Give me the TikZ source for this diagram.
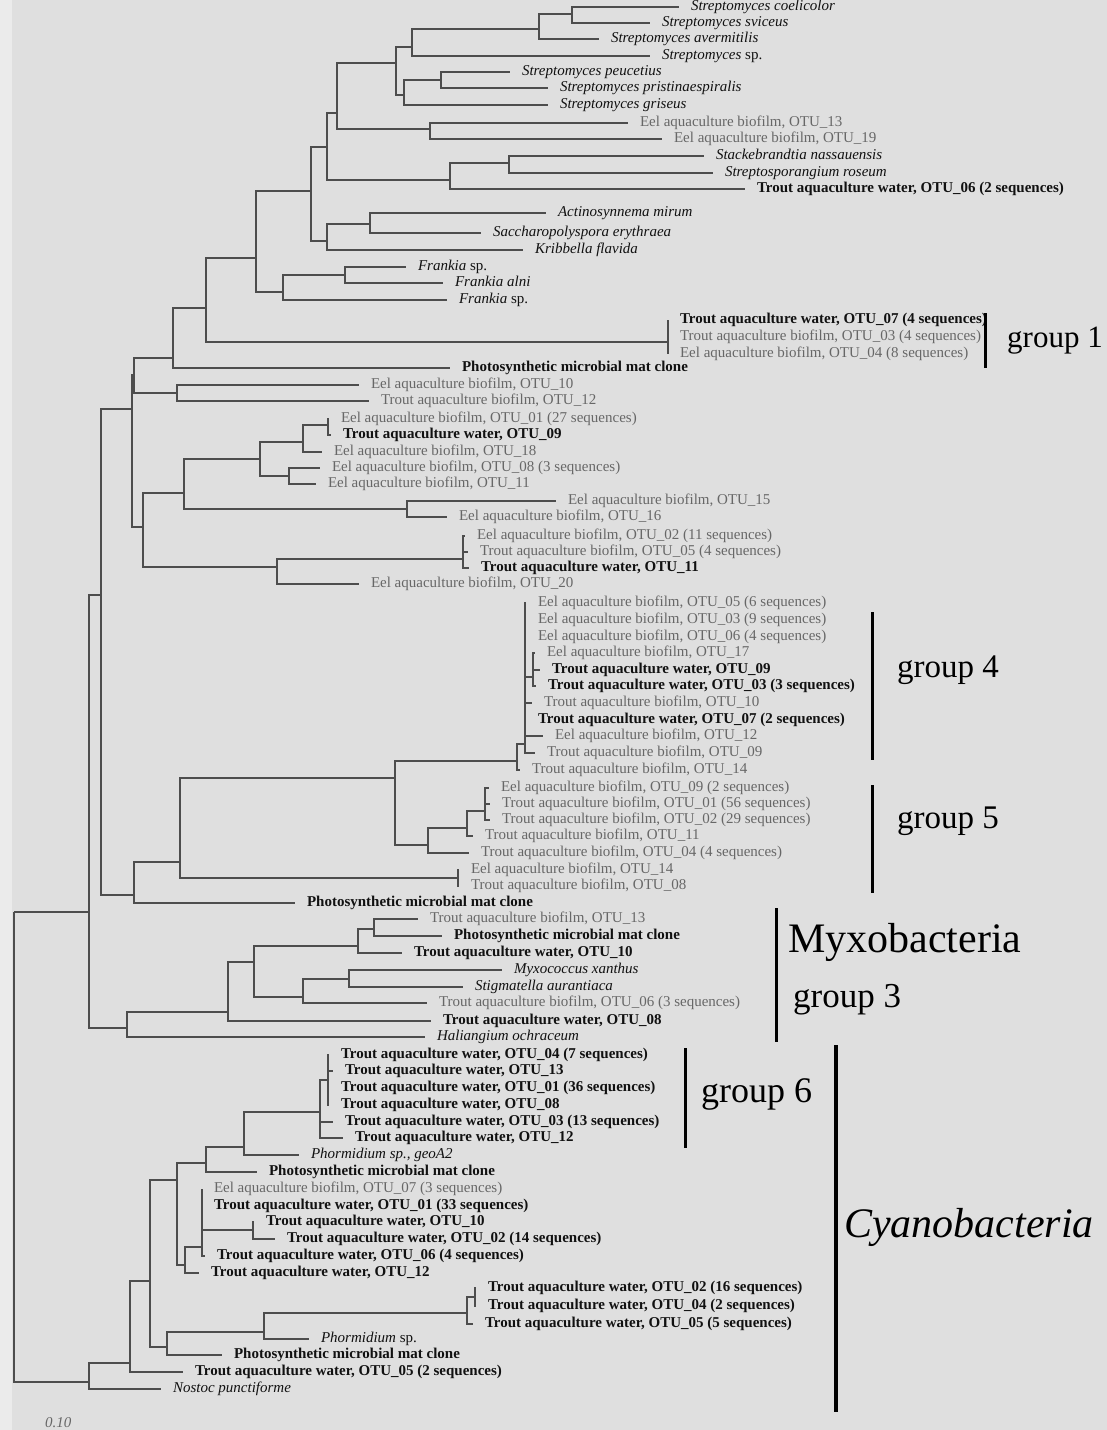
\documentclass[tikz,border=0pt]{standalone}
\usepackage{fontspec}
\setmainfont{Liberation Serif}
\definecolor{cbg}{HTML}{DFDFDF}
\definecolor{cedge}{HTML}{EBEBEB}
\definecolor{ctree}{HTML}{4D4D4D}
\definecolor{cbio}{HTML}{676767}
\definecolor{cink}{HTML}{111111}
\newcommand\leaffont{\fontsize{15}{15}\selectfont}
\newcommand\eel[1]{Eel aquaculture biofilm, OTU\_#1}
\newcommand\tbio[1]{Trout aquaculture biofilm, OTU\_#1}
\newcommand\twat[1]{Trout aquaculture water, OTU\_#1}
\newcommand\pmat{Photosynthetic microbial mat clone}
\tikzset{
  branch/.style={ctree,line width=1.5pt},
  leaf/.style={anchor=west,inner xsep=12pt,inner ysep=0pt,outer sep=0pt,text height=10pt,text depth=3pt,font=\leaffont,text=cink},
  bio/.style={leaf,text=cbio},
  wat/.style={leaf,font=\leaffont\bfseries},
  spc/.style={leaf,font=\leaffont\itshape},
  grp/.style={anchor=base west,inner sep=0pt,text=black,font=\fontsize{33}{33}\selectfont},
  bar/.style={black,line width=3pt}
}
\begin{document}
\begin{tikzpicture}[x=1pt,y=-1pt]
  \fill[cbg] (0,0) rectangle (1107,1430);
  \fill[cedge] (0,0) rectangle (12,1430);
  \useasboundingbox (0,0) rectangle (1107,1430);
  % Actinobacteria
  \node[spc] (l1) at (679,7) {Streptomyces coelicolor};
  \node[spc] (l2) at (650,23) {Streptomyces sviceus};
  \node[spc] (l3) at (599,39) {Streptomyces avermitilis};
  \node[spc] (l4) at (650,56) {Streptomyces \upshape sp.};
  \node[spc] (l5) at (510,72) {Streptomyces peucetius};
  \node[spc] (l6) at (548,88) {Streptomyces pristinaespiralis};
  \node[spc] (l7) at (548,105) {Streptomyces griseus};
  \node[bio] (l8) at (628,123) {\eel{13}};
  \node[bio] (l9) at (662,139) {\eel{19}};
  \node[spc] (l10) at (704,156) {Stackebrandtia nassauensis};
  \node[spc] (l11) at (713,173) {Streptosporangium roseum};
  \node[wat] (l12) at (745,189) {\twat{06 (2 sequences)}};
  \node[spc] (l13) at (546,213) {Actinosynnema mirum};
  \node[spc] (l14) at (481,233) {Saccharopolyspora erythraea};
  \node[spc] (l15) at (523,250) {Kribbella flavida};
  \node[spc] (l16) at (406,267) {Frankia \upshape sp.};
  \node[spc] (l17) at (443,283) {Frankia alni};
  \node[spc] (l18) at (447,300) {Frankia \upshape sp.};
  \node[wat] (l19) at (668,320) {\twat{07 (4 sequences)}};
  \node[bio] (l20) at (668,337) {\tbio{03 (4 sequences)}};
  \node[bio] (l21) at (668,354) {\eel{04 (8 sequences)}};
  \node[wat] (l22) at (450,368) {\pmat};
  \node[bio] (l23) at (359,385) {\eel{10}};
  \node[bio] (l24) at (369,401) {\tbio{12}};
  \node[bio] (l25) at (329,419) {\eel{01 (27 sequences)}};
  \node[wat] (l26) at (331,435) {\twat{09}};
  \node[bio] (l27) at (322,452) {\eel{18}};
  \node[bio] (l28) at (320,468) {\eel{08 (3 sequences)}};
  \node[bio] (l29) at (316,484) {\eel{11}};
  \node[bio] (l30) at (556,501) {\eel{15}};
  \node[bio] (l31) at (447,517) {\eel{16}};
  \node[bio] (l32) at (465,536) {\eel{02 (11 sequences)}};
  \node[bio] (l33) at (468,552) {\tbio{05 (4 sequences)}};
  \node[wat] (l34) at (469,568) {\twat{11}};
  \node[bio] (l35) at (359,584) {\eel{20}};
  % groups 4 and 5
  \node[bio] (l36) at (526,603) {\eel{05 (6 sequences)}};
  \node[bio] (l37) at (526,620) {\eel{03 (9 sequences)}};
  \node[bio] (l38) at (526,637) {\eel{06 (4 sequences)}};
  \node[bio] (l39) at (535,653) {\eel{17}};
  \node[wat] (l40) at (540,670) {\twat{09}};
  \node[wat] (l41) at (536,686) {\twat{03 (3 sequences)}};
  \node[bio] (l42) at (532,703) {\tbio{10}};
  \node[wat] (l43) at (526,720) {\twat{07 (2 sequences)}};
  \node[bio] (l44) at (543,736) {\eel{12}};
  \node[bio] (l45) at (535,753) {\tbio{09}};
  \node[bio] (l46) at (520,770) {\tbio{14}};
  \node[bio] (l47) at (489,788) {\eel{09 (2 sequences)}};
  \node[bio] (l48) at (490,804) {\tbio{01 (56 sequences)}};
  \node[bio] (l49) at (490,820) {\tbio{02 (29 sequences)}};
  \node[bio] (l50) at (473,836) {\tbio{11}};
  \node[bio] (l51) at (469,853) {\tbio{04 (4 sequences)}};
  \node[bio] (l52) at (459,870) {\eel{14}};
  \node[bio] (l53) at (459,886) {\tbio{08}};
  \node[wat] (l54) at (295,903) {\pmat};
  % Myxobacteria
  \node[bio] (l55) at (418,919) {\tbio{13}};
  \node[wat] (l56) at (442,936) {\pmat};
  \node[wat] (l57) at (402,953) {\twat{10}};
  \node[spc] (l58) at (502,970) {Myxococcus xanthus};
  \node[spc] (l59) at (463,987) {Stigmatella aurantiaca};
  \node[bio] (l60) at (427,1003) {\tbio{06 (3 sequences)}};
  \node[wat] (l61) at (431,1021) {\twat{08}};
  \node[spc] (l62) at (425,1037) {Haliangium ochraceum};
  % Cyanobacteria
  \node[wat] (l63) at (329,1055) {\twat{04 (7 sequences)}};
  \node[wat] (l64) at (333,1071) {\twat{13}};
  \node[wat] (l65) at (329,1088) {\twat{01 (36 sequences)}};
  \node[wat] (l66) at (329,1105) {\twat{08}};
  \node[wat] (l67) at (333,1122) {\twat{03 (13 sequences)}};
  \node[wat] (l68) at (343,1138) {\twat{12}};
  \node[spc] (l69) at (299,1155) {Phormidium sp., geoA2};
  \node[wat] (l70) at (257,1172) {\pmat};
  \node[bio] (l71) at (202,1189) {\eel{07 (3 sequences)}};
  \node[wat] (l72) at (202,1206) {\twat{01 (33 sequences)}};
  \node[wat] (l73) at (254,1222) {\twat{10}};
  \node[wat] (l74) at (275,1239) {\twat{02 (14 sequences)}};
  \node[wat] (l75) at (205,1256) {\twat{06 (4 sequences)}};
  \node[wat] (l76) at (199,1273) {\twat{12}};
  \node[wat] (l77) at (476,1288) {\twat{02 (16 sequences)}};
  \node[wat] (l78) at (476,1306) {\twat{04 (2 sequences)}};
  \node[wat] (l79) at (473,1324) {\twat{05 (5 sequences)}};
  \node[spc] (l80) at (309,1339) {Phormidium \upshape sp.};
  \node[wat] (l81) at (222,1355) {\pmat};
  \node[wat] (l82) at (183,1372) {\twat{05 (2 sequences)}};
  \node[spc] (l83) at (161,1389) {Nostoc punctiforme};
  % inner nodes
  \foreach \n/\x/\y in {s1/572/14,s2/539/29,s3/412/47,s4/441/80,s5/404/95,s6/396/63,e1/430/129,
    s7/337/113,st/509/163,s8/450/180,s9/327/147,ac/370/224,s10/327/241,s11/311/191,f1/345/275,
    f2/283/292,s12/256/258,g1/668/342,s13/206/308,s14/173/358,e2/177/393,s15/134/375,o1/328/425,
    s21/303/442,e3/289/476,s20/260/459,e4/407/509,s18/184/493,t1/463/559,s19/277/567,s17/143/527,
    s16/132/409,g4b/533/677,g4a/525/744,g4/517/761,g5a/485/811,s28/467/828,s27/428/845,s26/395/778,
    e5/458/878,s25/180/862,s23/134/895,s22/101/595,s34/374/929,s32/358/946,s35/349/979,s33/303/997,
    s31/254/962,s30/228/1012,s29/127/1028,s24/89/912,g6a/328/1080,g6/320/1112,s37/244/1147,
    s38/206/1163,s42/253/1230,s41/202/1247,s40/185/1265,s39/177/1180,c2/475/1297,c1/467/1313,
    s45/264/1332,s44/167/1347,s43/150/1281,s46/130/1363,s47/89/1382,root/14/912}
    \coordinate (\n) at (\x,\y);
  \foreach \p/\c in {s1/l1,s1/l2,s2/s1,s2/l3,s3/s2,s3/l4,s4/l5,s4/l6,s5/s4,s5/l7,s6/s3,s6/s5,
    e1/l8,e1/l9,s7/s6,s7/e1,st/l10,st/l11,s8/st,s8/l12,s9/s7,s9/s8,ac/l13,ac/l14,s10/ac,s10/l15,
    s11/s9,s11/s10,f1/l16,f1/l17,f2/f1,f2/l18,s12/s11,s12/f2,g1/l19,g1/l20,g1/l21,s13/s12,s13/g1,
    s14/s13,s14/l22,e2/l23,e2/l24,s15/s14,s15/e2,o1/l25,o1/l26,s21/o1,s21/l27,e3/l28,e3/l29,
    s20/s21,s20/e3,e4/l30,e4/l31,s18/s20,s18/e4,t1/l32,t1/l33,t1/l34,s19/t1,s19/l35,s17/s18,
    s17/s19,s16/s15,s16/s17,g4b/l39,g4b/l40,g4b/l41,g4a/l36,g4a/l37,g4a/l38,g4a/g4b,g4a/l42,
    g4a/l43,g4a/l44,g4a/l45,g4/g4a,g4/l46,g5a/l47,g5a/l48,g5a/l49,s28/g5a,s28/l50,s27/s28,
    s27/l51,s26/g4,s26/s27,e5/l52,e5/l53,s25/s26,s25/e5,s23/s25,s23/l54,s22/s16,s22/s23,
    s34/l55,s34/l56,s32/s34,s32/l57,s35/l58,s35/l59,s33/s35,s33/l60,s31/s32,s31/s33,s30/s31,
    s30/l61,s29/s30,s29/l62,s24/s22,s24/s29,g6a/l63,g6a/l64,g6a/l65,g6a/l66,g6/g6a,g6/l67,g6/l68,
    s37/g6,s37/l69,s38/s37,s38/l70,s42/l73,s42/l74,s41/l71,s41/l72,s41/s42,s41/l75,s40/s41,
    s40/l76,s39/s38,s39/s40,c2/l77,c2/l78,c1/c2,c1/l79,s45/c1,s45/l80,s44/s45,s44/l81,s43/s39,
    s43/s44,s46/s43,s46/l82,s47/s46,s47/l83,root/s24,root/s47}
    \draw[branch] (\p) |- (\c);
  % group marks
  \draw[bar] (985,313) -- (985,368);
  \draw[bar] (872,612) -- (872,760);
  \draw[bar] (872,785) -- (872,893);
  \draw[bar] (776,908) -- (776,1042);
  \draw[bar] (685,1048) -- (685,1148);
  \draw[bar,line width=4.5pt] (836,1045) -- (836,1412);
  \node[grp,font=\fontsize{31}{31}\selectfont] (gone) at (1007,347) {group 1};
  \node[grp] (gfour) at (897,677) {group 4};
  \node[grp] (gfive) at (897,828) {group 5};
  \node[grp,font=\fontsize{42}{42}\selectfont] (myxo) at (788,952) {Myxobacteria};
  \node[grp,font=\fontsize{35}{35}\selectfont] (gthree) at (793,1007) {group 3};
  \node[grp,font=\fontsize{36}{36}\selectfont] (gsix) at (701,1102) {group 6};
  \node[grp,font=\fontsize{42}{42}\selectfont\itshape] (cyano) at (844,1237) {Cyanobacteria};
  \node[anchor=base west,inner sep=0pt,text=cbio,font=\fontsize{15}{15}\selectfont\itshape] (scale) at (45,1427) {0.10};
\end{tikzpicture}
\end{document}
